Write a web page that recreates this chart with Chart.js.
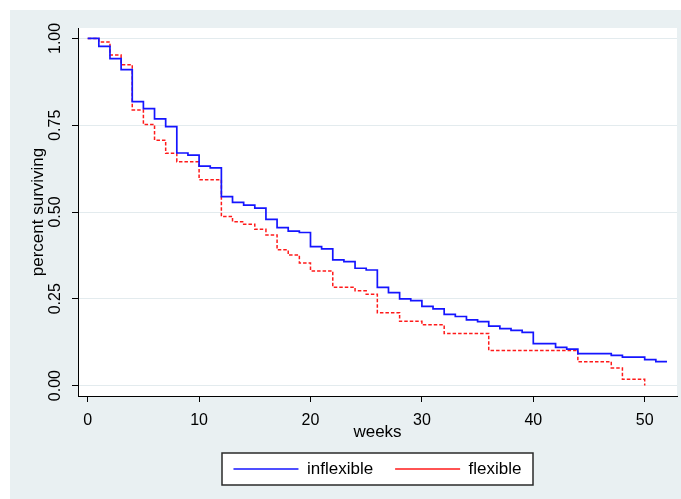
<!DOCTYPE html>
<html>
<head>
<meta charset="utf-8">
<script src="https://cdn.jsdelivr.net/npm/chart.js@4.4.1/dist/chart.umd.min.js"></script>
<style>
html,body{margin:0;background:#fff;}
#wrap{position:absolute;left:10px;top:10px;width:671px;height:489px;}
</style>
</head>
<body>
<div id="wrap"><canvas id="km" width="671" height="489"></canvas></div>
<script>
// Kaplan-Meier estimates, value holds from that week until the next one
const weeks = [0,1,2,3,4,5,6,7,8,9,10,11,12,13,14,15,16,17,18,19,20,21,22,23,24,25,26,
  27,28,29,30,31,32,33,34,35,36,37,38,39,40,41,42,43,44,45,46,47,48,49,50,51,52];

const inflexible = [1.000,0.977,0.942,0.910,0.818,0.798,0.768,0.746,0.670,0.664,
  0.632,0.627,0.544,0.528,0.520,0.511,0.479,0.455,0.445,0.441,
  0.400,0.394,0.362,0.357,0.338,0.333,0.283,0.268,0.250,0.245,
  0.228,0.221,0.205,0.199,0.189,0.184,0.171,0.164,0.159,0.153,
  0.121,0.121,0.110,0.105,0.092,0.092,0.092,0.087,0.082,0.082,
  0.075,0.069,0.069];

const flexible = [1.000,0.990,0.952,0.924,0.794,0.752,0.707,0.669,0.645,0.645,
  0.593,0.593,0.487,0.472,0.465,0.450,0.434,0.391,0.376,0.353,
  0.330,0.330,0.283,0.283,0.273,0.263,0.210,0.210,0.185,0.185,
  0.175,0.175,0.150,0.150,0.150,0.150,0.101,0.101,0.101,0.101,
  0.101,0.101,0.101,0.101,0.069,0.069,0.069,0.051,0.018,0.018,
  0.000];

const xTicks = [0,10,20,30,40,50];
const yTicks = [0,0.25,0.5,0.75,1];

const FONT = "'Liberation Sans', Arial, sans-serif";
const pts = vals => vals.map((v,i)=>({x:weeks[i], y:v}));

/* -------- backgrounds + legend frame -------- */
const backdrop = {
  id:"backdrop",
  beforeDraw(chart){
    const {ctx, chartArea:a, legend} = chart;
    ctx.save();
    ctx.fillStyle = "#e9f0f2";
    ctx.fillRect(0,0,chart.width,chart.height);
    ctx.fillStyle = "#fff";
    ctx.fillRect(a.left,a.top,a.right-a.left,a.bottom-a.top);
    const lab = legend.options.labels;
    const cy = legend.top + lab.padding + lab.font.size/2;
    const cx = (a.left+a.right)/2, w = 311, h = 32;
    ctx.fillRect(cx-w/2, cy-h/2, w, h);
    ctx.strokeStyle = "#2a2a2a";
    ctx.lineWidth = 1.5;
    ctx.strokeRect(cx-w/2, cy-h/2, w, h);
    ctx.restore();
  }
};

new Chart(document.getElementById("km"),{
  type:"line",
  data:{
    datasets:[
      {label:"inflexible", data:pts(inflexible), stepped:true,
       borderColor:"#1515ff", borderWidth:1.7, pointRadius:0, fill:false},
      {label:"flexible", data:pts(flexible), stepped:true,
       borderColor:"#ff1a1a", borderWidth:1.5, borderDash:[3.5,2], pointRadius:0, fill:false}
    ]
  },
  options:{
    responsive:false,
    animation:false,
    devicePixelRatio:1,
    layout:{padding:{top:18,right:4,left:0,bottom:11.5}},
    plugins:{
      tooltip:{enabled:false},
      legend:{
        position:"bottom",
        fullSize:false,
        labels:{usePointStyle:true, pointStyle:"line", pointStyleWidth:65,
          padding:22, color:"#000", font:{family:FONT, size:17}}
      }
    },
    scales:{
      x:{
        type:"linear", min:-0.87, max:52.9,
        afterBuildTicks:s=>{ s.ticks = xTicks.map(v=>({value:v})); },
        afterFit:s=>{ s.height = 42.5; },
        ticks:{maxRotation:0, minRotation:0, autoSkip:false, padding:9,
          color:"#000", font:{family:FONT, size:16}},
        grid:{drawOnChartArea:false, tickColor:"#000", tickLength:6},
        border:{color:"#000", width:1},
        title:{display:true, text:"weeks", color:"#000",
          font:{family:FONT, size:17}, padding:{top:0, bottom:-3.7}}
      },
      y:{
        type:"linear", min:-0.03, max:1.03,
        afterBuildTicks:s=>{ s.ticks = yTicks.map(v=>({value:v})); },
        afterFit:s=>{ s.width = 68; },
        ticks:{minRotation:90, maxRotation:90, crossAlign:"center", autoSkip:false, padding:1,
          color:"#000", font:{family:FONT, size:16}, callback:v=>v.toFixed(2)},
        grid:{color:"#e3ebee", tickColor:"#000", tickLength:6, lineWidth:1},
        border:{color:"#000", width:1},
        title:{display:true, text:"percent surviving", color:"#000",
          font:{family:FONT, size:17}, padding:{top:17.8, bottom:0}}
      }
    }
  },
  plugins:[backdrop]
});
</script>
</body>
</html>
